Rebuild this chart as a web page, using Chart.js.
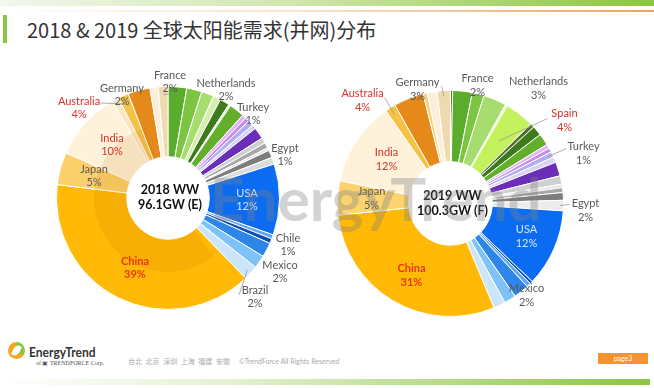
<!DOCTYPE html>
<html>
<head>
<meta charset="utf-8">
<script src="https://cdn.jsdelivr.net/npm/chart.js@4.4.0/dist/chart.umd.min.js"></script>
<style>
body{margin:0;width:654px;height:388px;overflow:hidden;background:#fff;position:relative;font-family:Lato,"Noto Sans CJK SC",sans-serif}
.abs{position:absolute}
#topbar{left:0;top:0;width:654px;height:6px;background:linear-gradient(90deg,#f3f8ec 0%,#cfe6ad 45%,#8cc63f 100%)}
#topline{left:0;top:10px;width:654px;height:2px;background:linear-gradient(90deg,#fff 0%,#fbe3cc 45%,#f0a25c 100%)}
#tmark{left:3px;top:15px;width:4px;height:28px;background:#8cc63f}
#title{left:27px;top:17px;font-size:20px;line-height:26px;color:#333;font-family:"Noto Sans CJK SC",sans-serif;white-space:nowrap}
#wm{left:210px;top:168px;font-size:60px;line-height:60px;font-weight:bold;color:rgba(130,130,130,0.35);white-space:nowrap;pointer-events:none}
#logo{left:8px;top:342px;width:17px;height:17px;border-radius:50%;background:conic-gradient(#8cc63f 0 35%,#f5a623 35% 100%)}
#logo:after{content:"";position:absolute;left:5px;top:3px;width:7px;height:11px;border-radius:60% 10%;background:#fff;transform:rotate(25deg)}
#brand{left:29px;top:343px;font-size:14px;font-weight:bold;color:#333;white-space:nowrap;transform:scaleX(0.86);transform-origin:left}
#corp{left:36px;top:359px;font-size:6px;color:#555;white-space:nowrap;font-family:"Liberation Serif",serif}
#cities{left:128px;top:356px;font-size:7px;color:#aaa;white-space:nowrap}
#page{left:598px;top:353px;width:50px;height:11px;background:#f7922f;color:#fff;font-size:7px;line-height:11px;text-align:center}
#botbar{left:0;top:379px;width:650px;height:6px;background:linear-gradient(90deg,#fff 0%,#e4f1d3 35%,#8cc63f 100%)}
canvas{position:absolute}
</style>
</head>
<body>
<div class="abs" id="topbar"></div>
<div class="abs" id="topline"></div>
<div class="abs" id="tmark"></div>
<div class="abs" id="title">2018 &amp; 2019 全球太阳能需求(并网)分布</div>
<canvas id="c2018" width="327" height="270" style="left:0;top:60px"></canvas>
<canvas id="c2019" width="327" height="270" style="left:327px;top:60px"></canvas>
<div class="abs" id="wm">EnergyTrend</div>
<div class="abs" id="logo"></div>
<div class="abs" id="brand">EnergyTrend</div>
<div class="abs" id="corp">of ▣ TRENDFORCE Corp.</div>
<div class="abs" id="cities">台北&nbsp; 北京&nbsp; 深圳&nbsp; 上海&nbsp; 福建&nbsp; 安徽&nbsp;&nbsp;&nbsp;&nbsp; ©TrendForce All Rights Reserved</div>
<div class="abs" id="page">page3</div>
<div class="abs" id="botbar"></div>
<script>
// slice shares (%), clockwise from 12 o'clock
const share2018 = [2.7, 2.2, 1.8, 1.1, 1.4, 0.3, 2.2, 0.6, 0.6, 0.8, 0.6, 1.7, 0.8, 0.8, 0.4, 1.1, 1.0,
  10.3, 0.6, 0.7, 2.1, 1.9, 2.1, 39.2, 4.7, 10.1, 1.0, 1.5, 3.2, 1.2, 1.4];
const colors2018 = ['#5aad2c', '#7dc443', '#a6dd6e', '#d4efb0', '#3e7b1c', '#e6f5d0', '#63ae2b', '#e3b4f7', '#c58af0', '#b3aef2', '#d8d4f8', '#6a2eb8', '#cfcfcf', '#a8a8a8', '#e6e6e6', '#7d7d7d', '#dcdcdc',
  '#0b6cf2', '#5fa6f2', '#0a4db3', '#2e86e8', '#7ec3f7', '#cbe6fa', '#ffb906', '#fbd06a', '#fef2da', '#fbe6c4', '#f6c246', '#e6891b', '#fcefd9', '#efd9ae'];

const share2019 = [0.3, 2.8, 1.7, 3.3, 0.3, 4.2, 0.6, 1.4, 1.7, 0.6, 0.6, 0.8, 0.8, 2.0, 1.2, 0.5, 0.7, 1.1, 1.5,
  11.1, 0.4, 0.6, 2.2, 1.7, 1.7, 29.7, 4.9, 12.1, 1.5, 4.3, 0.6, 1.4, 1.9];
const colors2019 = ['#3d7a1a', '#5aad2c', '#7dc443', '#a6dd6e', '#e8f8c8', '#c3f25c', '#4f6e2a', '#3e7b1c', '#63ae2b', '#e3b4f7', '#c58af0', '#b3aef2', '#d8d4f8', '#6a2eb8', '#cfcfcf', '#e6e6e6', '#a8a8a8', '#7d7d7d', '#ececec',
  '#0b6cf2', '#0a4db3', '#5fa6f2', '#2e86e8', '#7ec3f7', '#cbe6fa', '#ffb906', '#fcd46f', '#fef2da', '#f6c246', '#e6891b', '#f8d27a', '#fcefd9', '#efd9ae'];

// labels
const names2018 = ['Australia', 'Germany', 'France', 'Netherlands', 'Turkey', 'Egypt', 'USA', 'Chile', 'Mexico', 'Brazil', 'China', 'Japan', 'India'];
const pcts2018 = ['4%', '2%', '2%', '2%', '1%', '1%', '12%', '1%', '2%', '2%', '39%', '5%', '10%'];
const names2019 = ['Australia', 'Germany', 'France', 'Netherlands', 'Spain', 'Turkey', 'Egypt', 'USA', 'Mexico', 'China', 'Japan', 'India'];
const pcts2019 = ['4%', '3%', '2%', '3%', '4%', '1%', '2%', '12%', '2%', '31%', '5%', '12%'];
const center2018 = ['2018 WW', '96.1GW (E)'];
const center2019 = ['2019 WW', '100.3GW (F)'];

// label placement: offset of name from donut centre, style, optional leader [fromX, fromY, slice, radiusFraction]
const place2018 = [
  [-89, -97, 'red', [-68, -95, 27, 0.92]],
  [-46, -110, 'grey', null],
  [2, -123, 'grey', [2, -104, 30, 0.93]],
  [58, -115, 'grey', null],
  [85, -91, 'grey', null],
  [117, -50, 'grey', null],
  [79, -5, 'usa', null],
  [120, 40, 'grey', null],
  [112, 67, 'grey', null],
  [87, 92, 'grey', [71, 97, 22, 0.96]],
  [-33, 63, 'china', null],
  [-74, -29, 'grey', null],
  [-56, -60, 'red', null]
];
const place2019 = [
  [-88, -110, 'red', [-66, -106, 28, 0.93]],
  [-33, -121, 'grey', [-9, -117, 32, 0.95]],
  [27, -125, 'grey', null],
  [88, -122, 'grey', null],
  [114, -90, 'red', [97, -85, 5, 0.7]],
  [133, -57, 'grey', [116, -55, 11, 0.95]],
  [135, 0, 'grey', [119, 1, 18, 0.97]],
  [76, 26, 'usa', null],
  [76, 85, 'grey', null],
  [-39, 65, 'china', null],
  [-79, -12, 'grey', null],
  [-64, -51, 'red', null]
];

const styleColor = {grey: '#595959', red: '#d6322a', china: '#e8380d', usa: '#d6e6ff'};

const labelPlugin = {
  id: 'labels',
  afterDatasetsDraw(chart, args, opts) {
    // faint logo ring behind the 2018 hole
    if (!opts.ring) return;
    const a0 = chart.getDatasetMeta(0).data[0];
    const ctx = chart.ctx;
    ctx.save();
    ctx.fillStyle = 'rgba(190,110,0,0.12)';
    ctx.beginPath();
    ctx.arc(a0.x, a0.y, 74, 0.9, 4.4);
    ctx.arc(a0.x, a0.y, a0.innerRadius, 4.4, 0.9, true);
    ctx.closePath();
    ctx.fill();
    ctx.restore();
  },
  afterDraw(chart, args, opts) {
    const ctx = chart.ctx;
    const arcs = chart.getDatasetMeta(0).data;
    const cx = arcs[0].x, cy = arcs[0].y;
    ctx.save();
    // leader lines
    ctx.strokeStyle = '#9a9a9a';
    ctx.lineWidth = 0.8;
    opts.place.forEach(p => {
      if (!p[3]) return;
      const [fx, fy, idx, rf] = p[3];
      const a = arcs[idx];
      const mid = (a.startAngle + a.endAngle) / 2;
      const r = a.outerRadius * rf;
      ctx.beginPath();
      ctx.moveTo(cx + fx, cy + fy);
      ctx.lineTo(cx + Math.cos(mid) * r, cy + Math.sin(mid) * r);
      ctx.stroke();
    });
    ctx.textAlign = 'center';
    ctx.textBaseline = 'middle';
    opts.names.forEach((n, i) => {
      const p = opts.place[i];
      const bold = p[2] === 'china';
      ctx.font = (bold ? 'bold ' : '') + '11px Lato';
      ctx.fillStyle = styleColor[p[2]];
      ctx.fillText(n, cx + p[0], cy + p[1]);
      ctx.fillText(opts.pcts[i], cx + p[0], cy + p[1] + 13.5);
    });
    ctx.font = 'bold 12.5px Lato';
    ctx.fillStyle = '#111';
    ctx.fillText(opts.center[0], cx + 2, cy - 8);
    ctx.fillText(opts.center[1], cx + 2, cy + 7);
    ctx.restore();
  }
};

function makeDonut(id, data, colors, pad, names, pcts, place, center, ring) {
  return new Chart(document.getElementById(id), {
    type: 'doughnut',
    data: {
      labels: data.map((v, i) => 'slice ' + i),
      datasets: [{
        data: data,
        backgroundColor: colors,
        borderColor: '#ffffff',
        borderWidth: 1
      }]
    },
    options: {
      responsive: false,
      animation: false,
      cutout: '37%',
      layout: {padding: pad},
      plugins: {
        legend: {display: false},
        tooltip: {enabled: false},
        labels: {names: names, pcts: pcts, place: place, center: center, ring: ring}
      }
    },
    plugins: [labelPlugin]
  });
}

makeDonut('c2018', share2018, colors2018, {left: 56, top: 26, right: 47, bottom: 20}, names2018, pcts2018, place2018, center2018, true);
makeDonut('c2019', share2019, colors2019, {left: 10, top: 30, right: 90, bottom: 13}, names2019, pcts2019, place2019, center2019, false);
</script>
</body>
</html>
